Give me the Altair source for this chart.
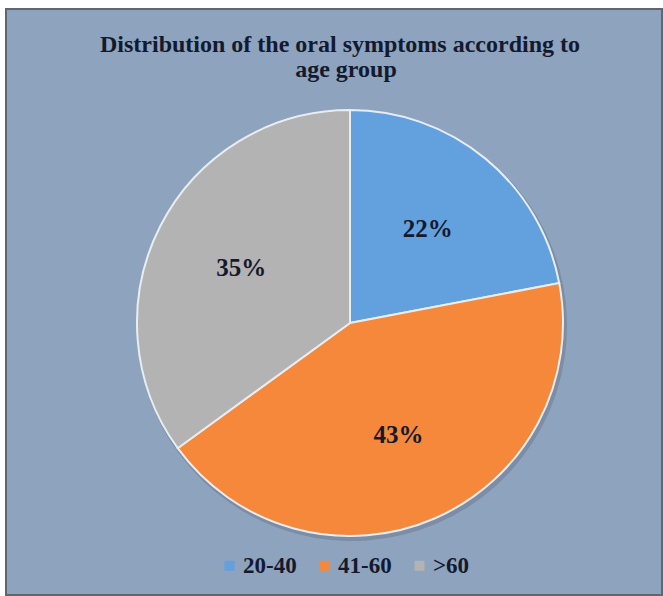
import altair as alt
import pandas as pd

categories = ["20-40", "41-60", ">60"]
values = [22, 43, 35]
labels = ["22%", "43%", "35%"]
colors = ["#62A0DE", "#F5883A", "#B3B3B3"]
title_lines = ["Distribution of the oral symptoms  according to", "age group"]

df = pd.DataFrame({"group": categories, "value": values, "label": labels, "order": [0, 1, 2]})

W, H = 663, 596
CX, CY, R = 350, 323, 213
FONT = "Liberation Serif"
DARK = "#141a2e"

frame = alt.Chart(pd.DataFrame({"a": [0]})).mark_rect(
    fill="#8EA3BE", stroke="#5f6670", strokeWidth=2
).encode(x=alt.value(6), x2=alt.value(662), y=alt.value(9), y2=alt.value(595))

base = alt.Chart(df).encode(
    theta=alt.Theta("value:Q", stack=True),
    order=alt.Order("order:Q"),
)

shadow = base.mark_arc(outerRadius=R + 2, fill="#6f7f95", opacity=0.6).encode(
    x=alt.value(CX + 2), y=alt.value(CY + 3)
)

pie = base.mark_arc(outerRadius=R, stroke="#e8edf2", strokeWidth=2).encode(
    x=alt.value(CX), y=alt.value(CY),
    color=alt.Color(
        "group:N",
        scale=alt.Scale(domain=categories, range=colors),
        sort=categories,
        legend=alt.Legend(
            title=None, orient="none", direction="horizontal",
            legendX=218, legendY=554,
            symbolType="square", symbolSize=100, symbolStrokeWidth=0,
            labelFont=FONT, labelFontSize=23, labelFontWeight="bold", labelColor=DARK,
            columnPadding=16, labelOffset=2,
        ),
    ),
)

text = base.mark_text(
    radius=122, font=FONT, fontSize=25, fontWeight="bold", color=DARK
).encode(x=alt.value(CX), y=alt.value(CY), text="label:N")

title1 = alt.Chart(pd.DataFrame({"t": [title_lines[0]]})).mark_text(
    font=FONT, fontSize=24, fontWeight="bold", color=DARK, align="center", baseline="middle"
).encode(x=alt.value(340), y=alt.value(45), text="t:N")

title2 = alt.Chart(pd.DataFrame({"t": [title_lines[1]]})).mark_text(
    font=FONT, fontSize=24, fontWeight="bold", color=DARK, align="center", baseline="middle"
).encode(x=alt.value(346), y=alt.value(70), text="t:N")

chart = alt.layer(frame, shadow, pie, text, title1, title2).properties(
    width=W, height=H, padding=0, autosize=alt.AutoSizeParams(type="none"),
    background="white",
).configure_view(stroke=None)

chart.save("out.html", embed_options={"renderer": "svg", "actions": False})
